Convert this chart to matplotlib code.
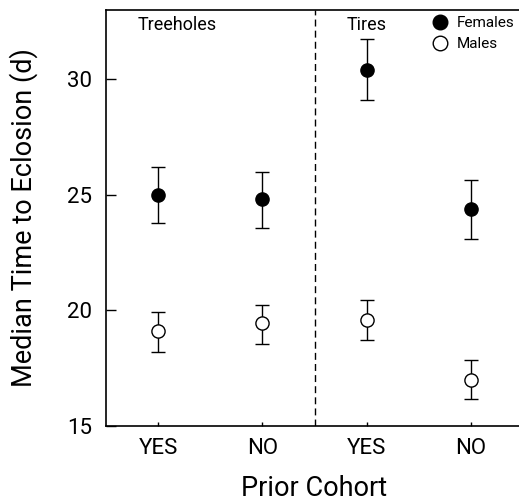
import numpy as np
import matplotlib.pyplot as plt
from matplotlib.lines import Line2D

# ----------------------------- Data ----------------------------- #
groups = ['YES', 'NO', 'YES', 'NO']
female_median = [25.0, 24.8, 30.4, 24.4]
female_low = [23.8, 23.55, 29.1, 23.1]
female_high = [26.2, 26.0, 31.75, 25.65]
male_median = [19.1, 19.45, 19.6, 17.0]
male_low = [18.2, 18.55, 18.7, 16.15]
male_high = [19.95, 20.25, 20.45, 17.85]
habitats = ['Treeholes', 'Tires']

plt.rcParams['font.family'] = ['Roboto', 'DejaVu Sans']
plt.rcParams['font.weight'] = 'normal'
plt.rcParams['axes.labelweight'] = 'normal'

fig = plt.figure(figsize=(5.19, 5.04), dpi=100)
ax = fig.add_axes([0.2042, 0.1548, 0.7958, 0.8254])

x = np.arange(1, len(groups) + 1)

# Error bars from medians to the bar ends
f_err = [np.subtract(female_median, female_low), np.subtract(female_high, female_median)]
m_err = [np.subtract(male_median, male_low), np.subtract(male_high, male_median)]

ax.errorbar(x, female_median, yerr=f_err, fmt='o', color='black', mfc='black',
            mec='black', ms=9.5, capsize=4.7, elinewidth=1, capthick=1, zorder=3)
ax.errorbar(x, male_median, yerr=m_err, fmt='o', color='black', mfc='white',
            mec='black', ms=9.5, mew=1, capsize=4.7, elinewidth=1, capthick=1,
            zorder=3)

# Separator between habitats
ax.axvline(2.5, color='black', lw=1, ls=(0, (5, 3)))

ax.text(1.18, 32.75, habitats[0], ha='center', va='top', fontsize=13)
ax.text(3.0, 32.75, habitats[1], ha='center', va='top', fontsize=13)

# Axes limits and ticks
ax.set_xlim(0.5, 4.46)
ax.set_ylim(15, 33)
ax.set_xticks(x)
ax.set_xticklabels(groups)
ax.set_yticks([15, 20, 25, 30])
ax.tick_params(axis='y', direction='in', length=7, width=1, labelsize=16, pad=10)
ax.tick_params(axis='x', direction='in', length=3, width=1, labelsize=16, pad=9)

ax.spines['right'].set_visible(False)
for s in ['left', 'bottom', 'top']:
    ax.spines[s].set_linewidth(1.2)

ax.set_xlabel('Prior Cohort', fontsize=19.5)
ax.set_ylabel('Median Time to Eclosion (d)', fontsize=19.5)
ax.xaxis.set_label_coords(0.505, -0.117)
ax.yaxis.set_label_coords(-0.165, 0.5)

# Legend with plain markers
handles = [
    Line2D([], [], ls='none', marker='o', ms=10.5, mfc='black', mec='black'),
    Line2D([], [], ls='none', marker='o', ms=10.5, mfc='white', mec='black', mew=1),
]
ax.legend(handles, ['Females', 'Males'], loc='upper left',
          bbox_to_anchor=(0.79, 0.985), frameon=False, fontsize=11,
          handlelength=1.0, handletextpad=0.6, borderaxespad=0, borderpad=0,
          labelspacing=0.45)

plt.savefig('out.png', dpi=100)
